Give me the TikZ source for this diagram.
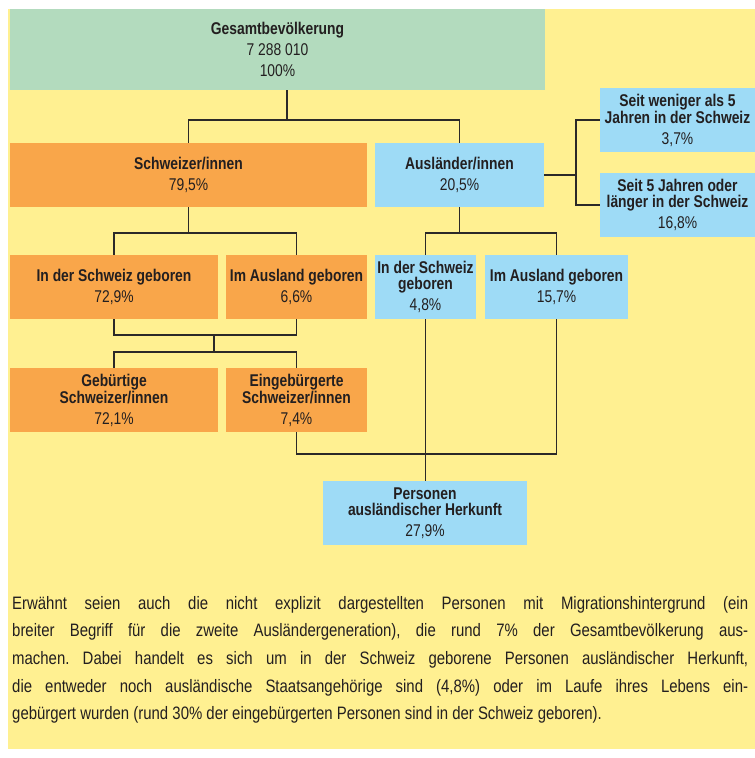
\documentclass[tikz,border=0pt]{standalone}
\usepackage{fontspec}
\setmainfont{Liberation Sans}[FakeStretch=0.815]
\newfontfamily\parafont{Liberation Sans}[FakeStretch=0.83]
\usetikzlibrary{calc}

\definecolor{bgyellow}{RGB}{255,240,145}
\definecolor{boxgreen}{RGB}{179,219,190}
\definecolor{boxorange}{RGB}{249,166,74}
\definecolor{boxblue}{RGB}{158,219,246}
\definecolor{txtdark}{RGB}{35,31,32}
\definecolor{linedark}{RGB}{43,41,40}

\tikzset{
	box/.style={inner sep=0pt, align=center, minimum height=64pt,
		text=txtdark, font=\fontsize{17}{15.5}\selectfont},
	greenbox/.style={box, fill=boxgreen},
	orangebox/.style={box, fill=boxorange},
	bluebox/.style={box, fill=boxblue},
	conn/.style={draw=linedark, line width=1.5pt},
	para/.style={inner sep=0pt, anchor=north west, text width=736pt,
		align=justify, text=txtdark, font=\parafont\fontsize{18}{27.6}\selectfont\frenchspacing}
}

\begin{document}
\begin{tikzpicture}[x=1pt,y=-1pt]
	\useasboundingbox (0,0) rectangle (755,758);
	\fill[white] (0,0) rectangle (755,758);
	\fill[bgyellow] (8,9) rectangle (755,749);
	
	% level 0
	\node[greenbox, minimum width=535pt, minimum height=81pt] (ges) at (277.5,49.5)
	{\textbf{Gesamtbevölkerung}\\[5.5pt]7~288~010\\[5.5pt]100\%};
	
	% level 1
	\node[orangebox, minimum width=357pt] (sch) at (188.5,175)
	{\textbf{Schweizer/innen}\\[5.5pt]79,5\%};
	\node[bluebox, minimum width=169pt] (aus) at (459.5,175)
	{\textbf{Ausländer/innen}\\[5.5pt]20,5\%};
	\node[bluebox, minimum width=155pt] (kurz) at (677.5,120)
	{\textbf{Seit weniger als 5}\\\textbf{Jahren in der Schweiz}\\[5.5pt]3,7\%};
	\node[bluebox, minimum width=155pt] (lang) at (677.5,205)
	{\textbf{Seit 5 Jahren oder}\\\textbf{länger in der Schweiz}\\[5.5pt]16,8\%};
	
	% level 2
	\node[orangebox, minimum width=208pt] (schCH) at (114,287)
	{\textbf{In der Schweiz geboren}\\[5.5pt]72,9\%};
	\node[orangebox, minimum width=141pt] (schAus) at (296.5,287)
	{\textbf{Im Ausland geboren}\\[5.5pt]6,6\%};
	\node[bluebox, minimum width=101pt] (ausCH) at (425.5,287)
	{\textbf{In der Schweiz}\\\textbf{geboren}\\[5.5pt]4,8\%};
	\node[bluebox, minimum width=143pt] (ausAus) at (556.5,287)
	{\textbf{Im Ausland geboren}\\[5.5pt]15,7\%};
	
	% level 3
	\node[orangebox, minimum width=208pt] (gebSch) at (114,400)
	{\textbf{Gebürtige}\\\textbf{Schweizer/innen}\\[5.5pt]72,1\%};
	\node[orangebox, minimum width=141pt] (einSch) at (296.5,400)
	{\textbf{Eingebürgerte}\\\textbf{Schweizer/innen}\\[5.5pt]7,4\%};
	
	% level 4
	\node[bluebox, minimum width=204pt] (herk) at (425,513)
	{\textbf{Personen}\\\textbf{ausländischer Herkunft}\\[5.5pt]27,9\%};
	
	% junctions
	\coordinate (jGes) at (287,120);
	\coordinate (jAusR) at (576,175);
	\coordinate (jSch) at (188.5,233);
	\coordinate (jAus) at (459.5,233);
	\coordinate (jUp) at (214,335);
	\coordinate (jDown) at (214,352);
	\coordinate (jHerk) at (425.5,454);
	
	% connectors
	\draw[conn] (ges.south -| jGes) -- (jGes);
	\draw[conn] (sch.north) |- (jGes) -| (aus.north);
	\draw[conn] (aus.east) -- (jAusR);
	\draw[conn] (kurz.west) -| (jAusR) |- (lang.west);
	\draw[conn] (sch.south) -- (jSch);
	\draw[conn] (schCH.north) |- (jSch) -| (schAus.north);
	\draw[conn] (aus.south) -- (jAus);
	\draw[conn] (ausCH.north) |- (jAus) -| (ausAus.north);
	\draw[conn] (schCH.south) |- (jUp) -| (schAus.south);
	\draw[conn] (jUp) -- (jDown);
	\draw[conn] (gebSch.north) |- (jDown) -| (einSch.north);
	\draw[conn] (einSch.south) |- (jHerk) -| (ausAus.south);
	\draw[conn] (ausCH.south) -- (ausCH.south |- herk.north);
	
	% note below the chart
	\node[para] (note) at (12,596)
	{Erwähnt seien auch die nicht explizit dargestellten Personen mit Migrationshintergrund (ein\linebreak
	breiter Begriff für die zweite Ausländergeneration), die rund 7\% der Gesamtbevölkerung aus-\linebreak
	machen. Dabei handelt es sich um in der Schweiz geborene Personen ausländischer Herkunft,\linebreak
	die entweder noch ausländische Staatsangehörige sind (4,8\%) oder im Laufe ihres Lebens ein-\linebreak
	gebürgert wurden (rund 30\% der eingebürgerten Personen sind in der Schweiz geboren).};
\end{tikzpicture}
\end{document}
